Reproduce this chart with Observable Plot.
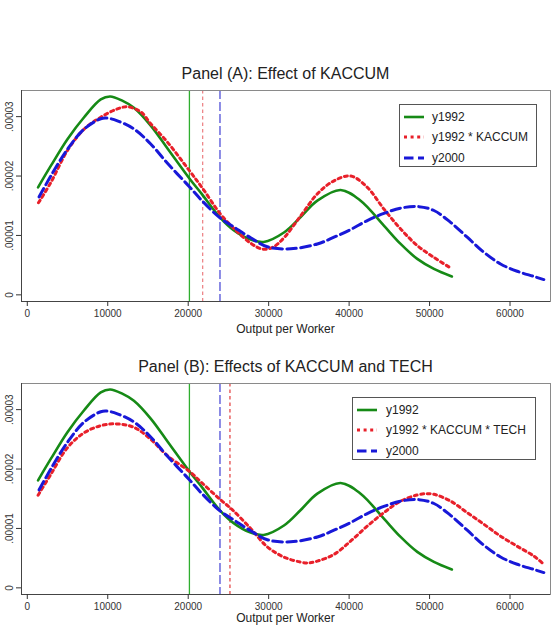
<!DOCTYPE html>
<html>
<head>
<meta charset="utf-8">
<script src="https://cdn.jsdelivr.net/npm/d3@7"></script>
<script src="https://cdn.jsdelivr.net/npm/@observablehq/plot@0.6"></script>
<style>
  html, body { margin: 0; padding: 0; background: #fff; overflow: hidden; }
  #page { position: relative; width: 559px; height: 625px; font-family: "Liberation Sans", Arial, sans-serif; color: #222; }
  .panel { position: absolute; left: 0; }
  .title { position: absolute; left: 21px; width: 529px; text-align: center; font-size: 16px; line-height: 16px; white-space: nowrap; }
  .xtitle { position: absolute; left: 21px; width: 529px; text-align: center; font-size: 12px; line-height: 12px; white-space: nowrap; }
  .legend { position: absolute; border: 1px solid #555; background: #fff; box-sizing: border-box; }
  .legend .row { position: absolute; left: 0; height: 14px; display: flex; align-items: center; font-size: 12px; white-space: nowrap; }
  .legend svg { display: block; }
</style>
</head>
<body>
<div id="page"></div>
<script>
// Kernel density of output per worker (values in units of 1e-5)
const y1992Output  = [1340, 2920, 4990, 7060, 9130, 10300, 11800, 13250, 15340, 17450, 20150, 21680, 23910, 25650, 27760, 29380, 31900, 33980, 36050, 38940, 41430, 44320, 46400, 48470, 50540, 52770];
const y1992Density = [1.81, 2.17, 2.62, 2.99, 3.29, 3.34, 3.27, 3.15, 2.85, 2.46, 1.96, 1.70, 1.31, 1.09, 0.93, 0.89, 1.05, 1.31, 1.585, 1.765, 1.585, 1.165, 0.857, 0.605, 0.437, 0.31];

const kaccumOutput  = [1390, 2920, 4990, 7060, 9130, 11200, 12440, 14100, 15340, 17420, 20150, 21800, 23950, 25690, 27760, 29220, 30500, 31900, 33980, 36050, 38120, 40190, 42260, 44320, 46400, 48470, 50540, 52520];
const kaccumDensity = [1.55, 1.89, 2.43, 2.79, 2.99, 3.13, 3.165, 3.08, 2.88, 2.57, 2.09, 1.79, 1.37, 1.115, 0.87, 0.77, 0.80, 0.96, 1.33, 1.70, 1.92, 2.0, 1.81, 1.445, 1.11, 0.83, 0.63, 0.46];

const techOutput  = [1340, 2920, 4990, 7060, 9130, 11100, 13270, 15340, 17450, 20150, 21680, 23950, 25440, 27760, 29830, 31900, 33980, 35010, 36050, 38120, 40190, 42260, 44320, 46400, 48470, 49500, 50540, 52610, 54680, 56750, 58820, 60890, 62960, 64000];
const techDensity = [1.56, 1.91, 2.36, 2.61, 2.73, 2.76, 2.70, 2.50, 2.22, 1.96, 1.77, 1.49, 1.32, 1.0, 0.69, 0.518, 0.433, 0.42, 0.45, 0.563, 0.787, 1.04, 1.265, 1.46, 1.563, 1.585, 1.575, 1.46, 1.265, 1.07, 0.87, 0.70, 0.535, 0.42];

const y2000Output  = [1470, 2920, 4990, 7060, 9130, 9900, 11200, 13270, 15340, 17450, 20150, 21680, 23950, 25690, 27760, 29830, 32730, 36050, 38120, 40190, 42260, 44320, 46400, 48670, 50540, 52610, 54680, 56750, 58820, 60890, 62960, 64200];
const y2000Density = [1.65, 2.0, 2.45, 2.79, 2.965, 2.975, 2.93, 2.79, 2.54, 2.21, 1.82, 1.59, 1.295, 1.14, 0.96, 0.81, 0.775, 0.857, 0.97, 1.1, 1.25, 1.37, 1.46, 1.485, 1.42, 1.22, 0.97, 0.716, 0.52, 0.397, 0.31, 0.257];

// Mean output per worker marked by vertical lines
const meanA = {y1992: 20150, kaccum: 21800, y2000: 23950};
const meanB = {y1992: 20150, tech: 25190, y2000: 23950};

const xTicks = [0, 10000, 20000, 30000, 40000, 50000, 60000];
const yTicks = [0, 0.00001, 0.00002, 0.00003];

const panelTitles = ["Panel (A): Effect of KACCUM", "Panel (B): Effects of KACCUM and TECH"];
const xLabel = "Output per Worker";
const legendA = ["y1992", "y1992 * KACCUM", "y2000"];
const legendB = ["y1992", "y1992 * KACCUM * TECH", "y2000"];

const toRows = (xs, ds) => xs.map((x, i) => ({x, d: ds[i] * 1e-5}));

const styles = {
  green: {stroke: "#168a16", strokeWidth: 2.6},
  red:   {stroke: "#e8202a", strokeWidth: 3, strokeDasharray: "3,3.6"},
  blue:  {stroke: "#1818d8", strokeWidth: 3, strokeDasharray: "9.5,4.5"}
};

const xDomain = [-720, 65030];
const yDomain = [-1.12e-6, 3.44e-5];
const frameH = 211;
const mTop = 30, mBottom = 45, mLeft = 21, mRight = 9;

const page = document.getElementById("page");

function makePanel(top, title, redRows, means, redLine, legendLabels, legendBox, xTitleGap) {
  const green = toRows(y1992Output, y1992Density);
  const blue = toRows(y2000Output, y2000Density);
  const svg = Plot.plot({
    width: 559,
    height: mTop + frameH + mBottom,
    marginTop: mTop, marginBottom: mBottom, marginLeft: mLeft, marginRight: mRight,
    style: {fontFamily: '"Liberation Sans", Arial, sans-serif', fontSize: "10px", color: "#333", background: "#fff"},
    x: {domain: xDomain},
    y: {domain: yDomain},
    marks: [
      Plot.ruleX([means.y1992], {stroke: "#2fae2f", strokeWidth: 1.3}),
      Plot.ruleX([redLine.value], {stroke: redLine.color, strokeWidth: 1.2, strokeDasharray: "3.5,3"}),
      Plot.ruleX([means.y2000], {stroke: "#3030d0", strokeWidth: 1.1, strokeDasharray: "9,3"}),
      Plot.line(green, {x: "x", y: "d", curve: "catmull-rom", ...styles.green}),
      Plot.line(redRows, {x: "x", y: "d", curve: "catmull-rom", ...styles.red}),
      Plot.line(blue, {x: "x", y: "d", curve: "catmull-rom", ...styles.blue}),
      Plot.frame({stroke: "#8a8a8a"}),
      Plot.ruleX([xDomain[0]], {stroke: "#444"}),
      Plot.ruleY([yDomain[0]], {stroke: "#444"}),
      Plot.axisX({ticks: xTicks, tickSize: 5, tickPadding: 3, tickFormat: d => String(d), label: null}),
      Plot.axisY({ticks: yTicks, tickSize: 5, tickPadding: 4, tickRotate: -90, label: null,
        tickFormat: d => d === 0 ? "0" : d3.format(".5f")(d).replace(/^0/, "")})
    ]
  });
  const wrap = document.createElement("div");
  wrap.className = "panel";
  wrap.style.top = top + "px";
  wrap.appendChild(svg);
  page.appendChild(wrap);

  const frameTop = top + mTop;
  const t = document.createElement("div");
  t.className = "title";
  t.style.top = (frameTop - 24) + "px";
  t.textContent = title;
  page.appendChild(t);

  const xt = document.createElement("div");
  xt.className = "xtitle";
  xt.style.top = (frameTop + frameH + xTitleGap) + "px";
  xt.textContent = xLabel;
  page.appendChild(xt);

  // legend box
  const lg = document.createElement("div");
  lg.className = "legend";
  Object.assign(lg.style, {left: legendBox.left + "px", top: (frameTop + legendBox.dy) + "px", width: legendBox.width + "px", height: "63px"});
  const keys = ["green", "red", "blue"];
  keys.forEach((k, i) => {
    const row = document.createElement("div");
    row.className = "row";
    row.style.top = (4.5 + i * 20.5) + "px";
    row.style.left = "4px";
    const s = styles[k];
    row.innerHTML = `<svg width="20" height="8"><line x1="0" x2="20" y1="4" y2="4" stroke="${s.stroke}" stroke-width="${s.strokeWidth}" ${s.strokeDasharray ? `stroke-dasharray="${s.strokeDasharray}"` : ""}/></svg><span style="margin-left:${legendBox.gap}px">${legendLabels[i]}</span>`;
    lg.appendChild(row);
  });
  page.appendChild(lg);
}

makePanel(60, panelTitles[0], toRows(kaccumOutput, kaccumDensity), meanA,
  {value: meanA.kaccum, color: "#ec7d80"}, legendA, {left: 399, width: 138, dy: 14.3, gap: 8}, 22);
makePanel(352.7, panelTitles[1], toRows(techOutput, techDensity), meanB,
  {value: meanB.tech, color: "#e23a3a"}, legendB, {left: 352, width: 184, dy: 14.6, gap: 9}, 18);
</script>
</body>
</html>
